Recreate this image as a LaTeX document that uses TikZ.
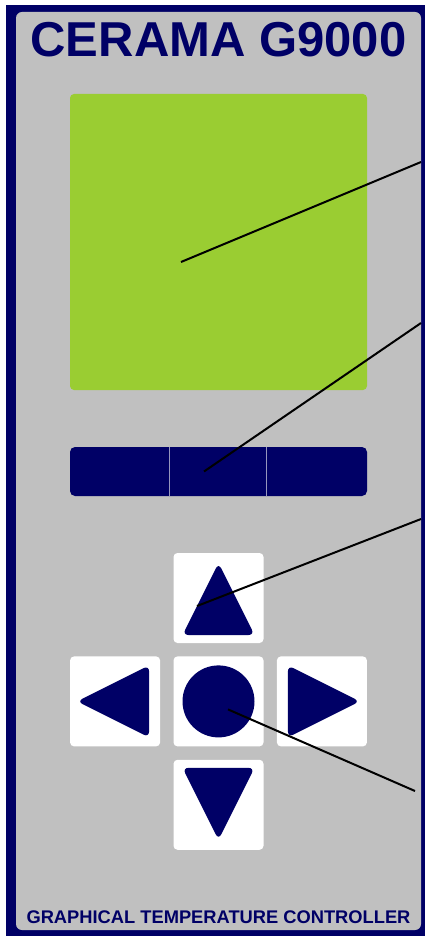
\documentclass[tikz,border=0pt]{standalone}
\usepackage{fontspec}
\setmainfont{Liberation Sans}
\definecolor{panelnavy}{RGB}{0, 0, 102}
\definecolor{panelgray}{RGB}{192, 192, 192}
\definecolor{lcdgreen}{RGB}{154, 205, 50}
\definecolor{keyline}{RGB}{150, 150, 190}
\usetikzlibrary{positioning}

\begin{document}
\begin{tikzpicture}[x=1pt, y=-1pt,
  key/.style={fill=white, rounded corners=4pt, minimum width=90pt, minimum height=90pt, inner sep=0pt},
  glyph/.style={fill=panelnavy, rounded corners=6pt},
  callout/.style={draw=black, line width=2pt}]
\useasboundingbox (0,0) rectangle (425,936);
% frame
\fill[panelnavy] (6,5) rectangle (425,936);
\fill[panelgray, rounded corners=6pt] (16,12) rectangle (421,930);
\node[text=panelnavy, font=\bfseries\fontsize{49}{49}\selectfont, anchor=base] (title) at (218.5,57) {CERAMA G9000};
\node[text=panelnavy, font=\bfseries\fontsize{18.3}{18.3}\selectfont, anchor=base] (subtitle) at (218.5,923) {GRAPHICAL TEMPERATURE CONTROLLER};

% display and soft keys
\node[fill=lcdgreen, rounded corners=4pt, minimum width=297pt, minimum height=296pt, inner sep=0pt] (screen) at (218.5,242) {};
\node[fill=panelnavy, rounded corners=5pt, minimum width=297pt, minimum height=49pt, inner sep=0pt] (bar) at (218.5,471.5) {};
\draw[keyline, line width=0.8pt] ([xshift=100pt]bar.north west) -- ([xshift=100pt]bar.south west);
\draw[keyline, line width=0.8pt] ([xshift=197pt]bar.north west) -- ([xshift=197pt]bar.south west);

% keypad
\node[key] (up) at (218.5,598) {};
\node[key, below=13pt of up] (ok) {};
\node[key, left=13pt of ok] (left) {};
\node[key, right=13pt of ok] (right) {};
\node[key, below=13pt of ok] (down) {};
\fill[glyph] ([yshift=35pt]up.center) -- ([xshift=36pt,yshift=-37pt]up.center) -- ([xshift=-36pt,yshift=-37pt]up.center) -- cycle;
\fill[glyph] ([yshift=-35pt]down.center) -- ([xshift=36pt,yshift=37pt]down.center) -- ([xshift=-36pt,yshift=37pt]down.center) -- cycle;
\fill[glyph] ([xshift=-38pt]left.center) -- ([xshift=34pt,yshift=36pt]left.center) -- ([xshift=34pt,yshift=-36pt]left.center) -- cycle;
\fill[glyph] ([xshift=38pt]right.center) -- ([xshift=-34pt,yshift=36pt]right.center) -- ([xshift=-34pt,yshift=-36pt]right.center) -- cycle;
\fill[panelnavy] (ok.center) circle (36pt);

% callouts
\coordinate (c1) at (421,162);
\coordinate (c2) at (421,323);
\coordinate (c3) at (421,519);
\coordinate (c4) at (415,791);
\draw[callout] ([xshift=-37.5pt,yshift=-20pt]screen.center) -- (c1);
\draw[callout] ([xshift=-14.5pt]bar.center) -- (c2);
\draw[callout] ([xshift=-21.5pt,yshift=-8pt]up.center) -- (c3);
\draw[callout] ([xshift=9.5pt,yshift=-8pt]ok.center) -- (c4);
\end{tikzpicture}
\end{document}
